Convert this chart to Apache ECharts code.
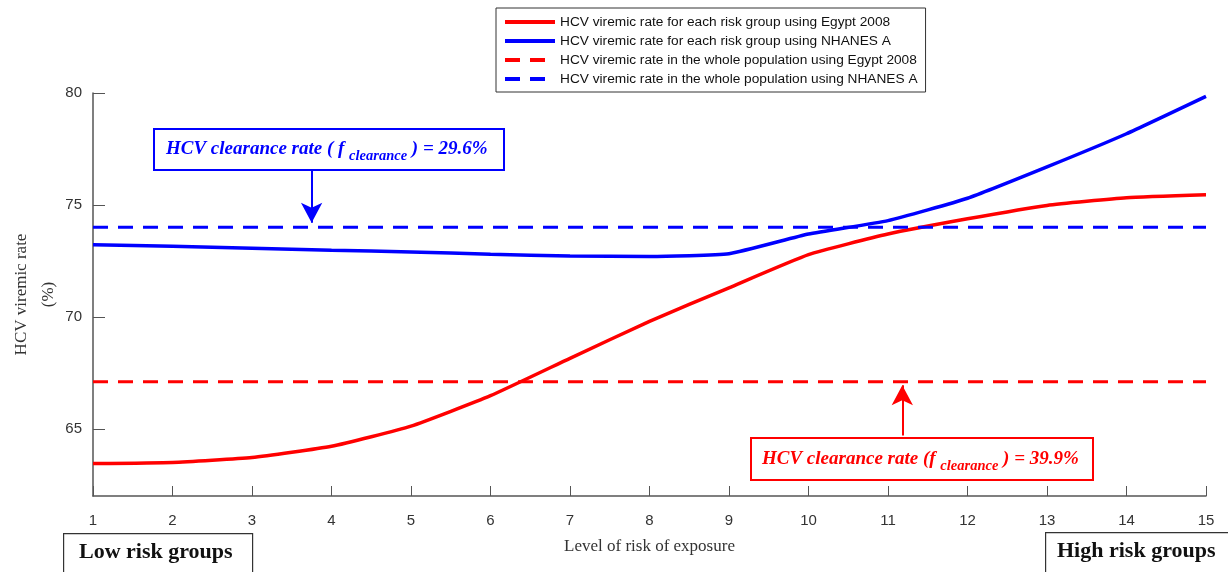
<!DOCTYPE html>
<html><head><meta charset="utf-8">
<script src="https://cdn.jsdelivr.net/npm/echarts@6/dist/echarts.min.js"></script>
<style>html,body{margin:0;padding:0;background:#fff}#c{width:1228px;height:572px}</style>
</head><body><div id="c"></div>
<script>
const riskLevels = [1,2,3,4,5,6,7,8,9,10,11,12,13,14,15];
const egyptRisk = [63.45,63.5,63.72,64.22,65.12,66.48,68.15,69.8,71.3,72.78,73.7,74.38,74.98,75.32,75.45];
const nhanesRisk = [73.22,73.15,73.07,72.98,72.9,72.8,72.72,72.7,72.82,73.7,74.3,75.3,76.7,78.18,79.85];
const egyptWhole = 67.1;
const nhanesWhole = 74.0;
const yTicks = [65,70,75,80];
const names = ['HCV viremic rate for each risk group using Egypt 2008','HCV viremic rate for each risk group using NHANES A','HCV viremic rate in the whole population using Egypt 2008','HCV viremic rate in the whole population using NHANES A'];
const blueArrow = [[3.75,76.65],[3.75,74.2]];
const redArrow = [[11.18,64.7],[11.18,66.95]];

const chart = echarts.init(document.getElementById('c'));
const serif = '"Liberation Serif","Times New Roman",serif';
const sans = '"Liberation Sans",Arial,sans-serif';
function pairs(ys){return riskLevels.map((x,i)=>[x,ys[i]]);}
function flat(v){return riskLevels.map(x=>[x,v]);}
function boxText(color){
  return {
    a:{fontFamily:serif,fontStyle:'italic',fontWeight:'bold',fontSize:19,fill:color,lineHeight:24},
    s:{fontFamily:serif,fontStyle:'italic',fontWeight:'bold',fontSize:14.5,fill:color,padding:[15,0,0,0],lineHeight:24}
  };
}
chart.setOption({
  animation:false,
  grid:{left:93,right:22,top:93,bottom:76,outerBoundsMode:'none',containLabel:false},
  legend:{
    left:496, top:8, orient:'vertical', itemWidth:50, itemHeight:14, itemGap:5,
    padding:[7,8,6,7], borderColor:'#333', borderWidth:1,
    itemStyle:{opacity:0},
    lineStyle:{width:4},
    textStyle:{fontFamily:sans,fontSize:13.7,color:'#111'},
    data:names
  },
  xAxis:{
    type:'value', min:1, max:15, interval:1,
    name:'Level of risk of exposure', nameLocation:'middle', nameGap:42,
    nameTextStyle:{fontFamily:serif,fontSize:17,color:'#333'},
    axisLine:{lineStyle:{color:'#555',width:1.5}},
    axisTick:{inside:true,length:10,lineStyle:{color:'#555'}},
    axisLabel:{fontFamily:sans,fontSize:15,color:'#333',margin:17},
    splitLine:{show:false}
  },
  yAxis:{
    type:'value', min:62, max:80,
    name:'HCV viremic rate\n(%)', nameLocation:'middle', nameGap:31, nameRotate:90, nameMoveOverlap:false,
    nameTextStyle:{fontFamily:serif,fontSize:17,color:'#333',lineHeight:27},
    axisLine:{show:true,lineStyle:{color:'#555',width:1.5}},
    axisTick:{inside:true,length:12,lineStyle:{color:'#555'},customValues:yTicks},
    axisLabel:{fontFamily:sans,fontSize:15,color:'#333',margin:11,customValues:yTicks},
    splitLine:{show:false}
  },
  series:[
    {name:names[0],type:'line',data:pairs(egyptRisk),symbol:'none',smooth:0.15,lineStyle:{color:'#ff0000',width:3.5},itemStyle:{color:'#ff0000'},z:3,
      markLine:{silent:true,symbol:['none','arrow'],symbolSize:[16,20],lineStyle:{color:'#ff0000',width:2,type:'solid'},label:{show:false},
        data:[[{coord:redArrow[0]},{coord:redArrow[1]}]]}},
    {name:names[1],type:'line',data:pairs(nhanesRisk),symbol:'none',smooth:0.15,lineStyle:{color:'#0000ff',width:3.5},itemStyle:{color:'#0000ff'},z:3,
      markLine:{silent:true,symbol:['none','arrow'],symbolSize:[16,20],lineStyle:{color:'#0000ff',width:2,type:'solid'},label:{show:false},
        data:[[{coord:blueArrow[0]},{coord:blueArrow[1]}]]}},
    {name:names[2],type:'line',data:flat(egyptWhole),symbol:'none',lineStyle:{color:'#ff0000',width:3,type:[15,10]},itemStyle:{color:'#ff0000'}},
    {name:names[3],type:'line',data:flat(nhanesWhole),symbol:'none',lineStyle:{color:'#0000ff',width:3,type:[15,10]},itemStyle:{color:'#0000ff'}}
  ],
  graphic:[
    {type:'rect',left:153,top:128,shape:{width:350,height:41},style:{fill:'#fff',stroke:'#0000ff',lineWidth:2},z:10},
    {type:'text',left:166,top:134,style:{text:'{a|HCV clearance rate ( f }{s|clearance}{a| ) = 29.6%}',rich:boxText('#0000ff')},z:11},
    {type:'rect',left:750,top:437,shape:{width:342,height:42},style:{fill:'#fff',stroke:'#ff0000',lineWidth:2},z:10},
    {type:'text',left:762,top:444,style:{text:'{a|HCV clearance rate (f }{s|clearance}{a| ) = 39.9%}',rich:boxText('#ff0000')},z:11},
    {type:'rect',left:63,top:533,shape:{width:189,height:45},style:{fill:'#fff',stroke:'#333',lineWidth:1.2},z:10},
    {type:'text',left:79,top:541,style:{text:'Low risk groups',fontFamily:serif,fontWeight:'bold',fontSize:22,fill:'#111'},z:11},
    {type:'rect',left:1045,top:532,shape:{width:200,height:45},style:{fill:'#fff',stroke:'#333',lineWidth:1.2},z:10},
    {type:'text',left:1057,top:540,style:{text:'High risk groups',fontFamily:serif,fontWeight:'bold',fontSize:22,fill:'#111'},z:11}
  ]
});
</script></body></html>
